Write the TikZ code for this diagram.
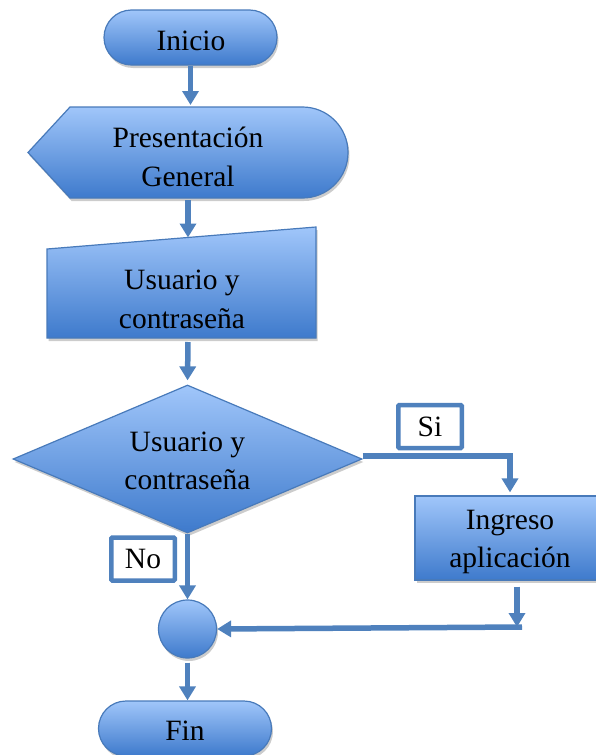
\documentclass[tikz,border=0pt]{standalone}
\usepackage{fontspec}
\setmainfont{Liberation Serif}
\usetikzlibrary{arrows.meta,shapes.geometric,shadows}
\definecolor{lineblue}{RGB}{79,129,189}
\definecolor{edgeblue}{RGB}{72,122,186}
\definecolor{topblue}{RGB}{160,198,250}
\definecolor{botblue}{RGB}{62,122,204}
\begin{document}
\begin{tikzpicture}[x=1pt,y=-1pt,
  shapefill/.style={draw=edgeblue, line width=1.2pt, top color=topblue, bottom color=botblue,
    drop shadow={shadow xshift=1.5pt, shadow yshift=-3pt, opacity=0.2, fill=black}},
  txt/.style={font=\fontsize{29.5}{38.5}\selectfont, align=center, inner sep=0pt},
  term/.style={shapefill, rounded corners=27.5pt, minimum width=173pt, minimum height=55pt},
  proc/.style={shapefill, minimum width=190pt, minimum height=84pt},
  conn/.style={draw=lineblue, line width=5.5pt, -{Triangle[width=16pt,length=14pt]}},
  lbl/.style={txt, draw=lineblue, line width=4.5pt, fill=white, minimum width=63.5pt, minimum height=43pt, rounded corners=1pt},
  junction/.style={shapefill, circle, minimum size=58pt, inner sep=0pt},
  decision/.style={shapefill, diamond, aspect=2.36, minimum width=349pt, minimum height=148pt}]
\useasboundingbox (0,0) rectangle (595,755);

% Inicio
\node[term] (inicio) at (190.5,37.5) {};
\node[txt] (inicioT) at (191,40.5) {Inicio};

% Presentacion General (display shape)
\path[shapefill] (28,152.5) -- (70,107) -- (302.5,107)
  arc[start angle=-90, end angle=90, radius=45.5] -- (70,198) -- cycle;
\node[txt] (pres) at (188,157) {Presentación\\General};
\coordinate (presN) at (190.5,107);
\coordinate (presS) at (188,198);

% Usuario y contrasena (manual input)
\path[shapefill] (47,249) -- (316,227) -- (316,338) -- (47,338) -- cycle;
\node[txt] (usr) at (182,299.5) {Usuario y\\contraseña};
\coordinate (usrN) at (188,237.5);
\coordinate (usrS) at (188,338);

% Decision
\node[decision] (dec) at (187.5,459) {};
\node[txt] (decT) at (187.5,461) {Usuario y\\contraseña};

% Ingreso aplicacion
\node[proc] (ing) at (510,538) {};
\node[txt] (ingT) at (510,542) {Ingreso\\aplicación};

% Junction
\node[junction] (jn) at (187.5,629) {};

% Fin
\node[term] (fin) at (185,728.5) {};
\node[txt] (finT) at (185,731) {Fin};

% connectors
\draw[conn, shorten >=2pt] (inicio.south) -- (presN);
\draw[conn, shorten <=2pt] (presS) -- (usrN);
\draw[conn, shorten <=4pt, shorten >=4pt] (usrS) -- (dec.north);
\draw[conn, shorten >=3pt] ([yshift=3pt]dec.east) -| (ing.north);
\draw[conn] (dec.south) -- (jn.north);
\coordinate (corner) at (517,627);
\draw[conn, shorten <=6pt] (ing.south -| corner) -- (corner);
\draw[conn] ([xshift=5pt]corner) -- (jn.east);
\draw[conn, shorten <=4pt] (jn.south) -- (jn.south |- fin.north);

% labels
\node[lbl] (si) at (430,426.5) {Si};
\node[lbl] (no) at (143,559) {No};
\end{tikzpicture}
\end{document}
